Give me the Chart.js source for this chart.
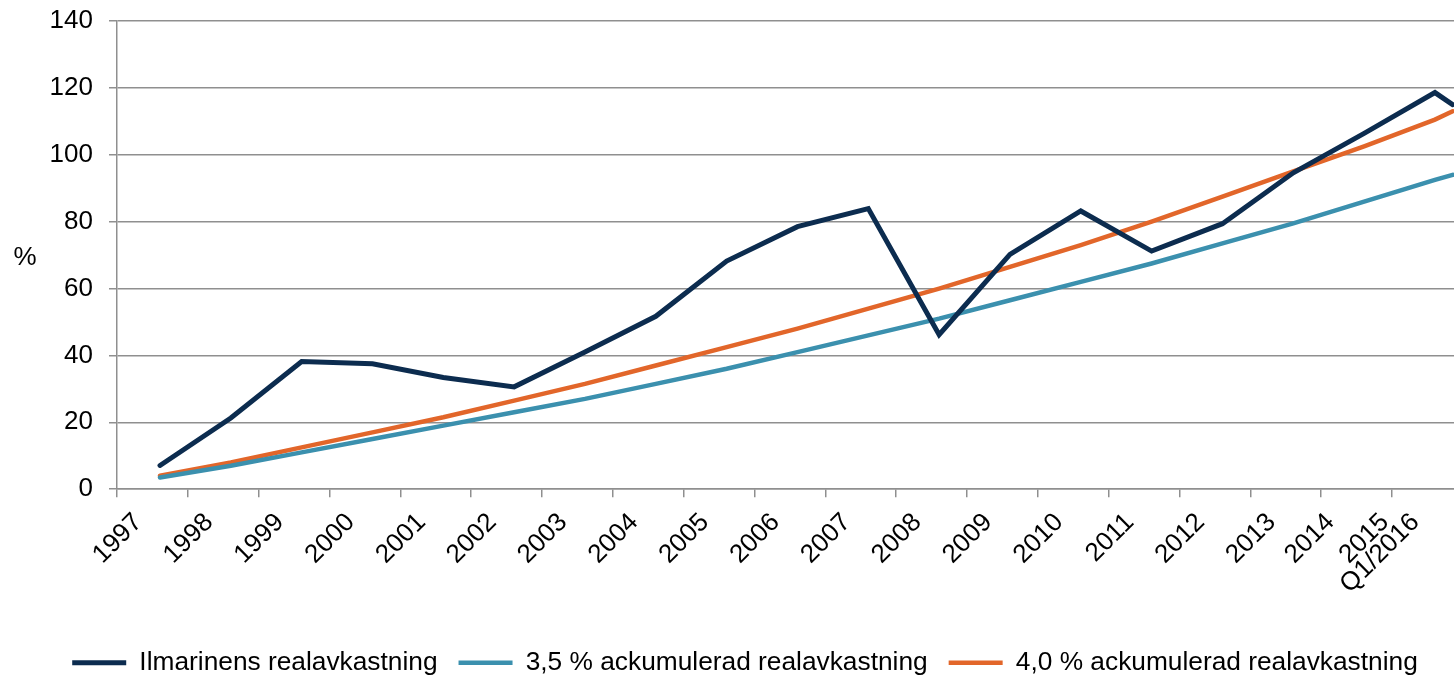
<!DOCTYPE html>
<html>
<head>
<meta charset="utf-8">
<script src="https://cdn.jsdelivr.net/npm/chart.js@4"></script>
<style>
  html, body { margin: 0; padding: 0; background: #fff; overflow: hidden; }
  #wrap { width: 1454px; height: 677px; overflow: hidden; }
</style>
</head>
<body>
<div id="wrap"><canvas id="chart" width="1454" height="686"></canvas></div>
<script>
// Perioder på x-axeln (sista punkten är första kvartalet 2016)
const periods = ['1997', '1998', '1999', '2000', '2001', '2002', '2003', '2004', '2005', '2006',
  '2007', '2008', '2009', '2010', '2011', '2012', '2013', '2014', '2015', 'Q1/2016'];

// Kumulativ realavkastning, %
const ilmarinen = [7.1, 21.3, 38.2, 37.5, 33.4, 30.6, 41, 51.7, 68.2, 78.5,
  83.9, 46.2, 70.2, 83.2, 71.2, 79.4, 94.6, 106.4, 118.6, 115];
const acc35 = [3.5, 7, 11, 15, 19, 23, 27, 31.5, 36, 41,
  46, 51, 56.5, 62, 67.5, 73.5, 79.5, 86, 92.5, 94];
const acc40 = [4, 8, 12.5, 17, 21.5, 26.5, 31.5, 37, 42.5, 48,
  54, 60, 66.5, 73, 80, 87.5, 95, 102.5, 110.5, 113];

const yTicks = [0, 20, 40, 60, 80, 100, 120, 140];

// årsvärdena ligger en bit in i året, Q1/2016 ett kvartal efter 2015
const xOf = i => (i < 19 ? i : 18.25) + 0.607;
const points = arr => arr.map((v, i) => ({ x: xOf(i), y: v }));

const FONT = "'Liberation Sans', Arial, sans-serif";
Chart.defaults.font.family = FONT;
Chart.defaults.color = '#000';

const gridColor = '#8f8f8f';
const xMax = 18.876; // diagrammet är beskuret i högerkanten

// "%" står vågrätt till vänster om y-axeln
const percentLabel = {
  id: 'percentLabel',
  afterDraw(chart) {
    const { ctx, chartArea } = chart;
    ctx.save();
    ctx.font = '26px ' + FONT;
    ctx.fillStyle = '#000';
    ctx.textAlign = 'center';
    ctx.textBaseline = 'middle';
    ctx.fillText('%', 25, (chartArea.top + chartArea.bottom) / 2 + 3);
    ctx.restore();
  }
};

function dataset(label, data, color, width) {
  return {
    label: label,
    data: points(data),
    borderColor: color,
    backgroundColor: color,
    borderWidth: width,
    borderCapStyle: 'round',
    borderJoinStyle: 'miter',
    pointRadius: 0,
    tension: 0,
    xAxisID: 'x',
    yAxisID: 'y'
  };
}

new Chart(document.getElementById('chart'), {
  type: 'line',
  data: {
    datasets: [
      dataset('Ilmarinens realavkastning', ilmarinen, '#0c2c4f', 5),
      dataset('3,5 % ackumulerad realavkastning', acc35, '#3b90ae', 4.5),
      dataset('4,0 % ackumulerad realavkastning', acc40, '#e2662a', 4.5)
    ]
  },
  options: {
    responsive: false,
    animation: false,
    layout: { padding: { left: 36, top: 21, right: 0, bottom: 0 } },
    scales: {
      x: {
        type: 'linear',
        position: 'bottom',
        min: 0,
        max: xMax,
        afterBuildTicks: s => { s.ticks = periods.slice(0, 19).map((p, i) => ({ value: i })); },
        afterFit: s => { s.height = 8; },
        grid: { drawOnChartArea: false, drawTicks: true, tickLength: 8, color: gridColor, lineWidth: 1.5 },
        border: { display: true, color: gridColor, width: 1.5 },
        ticks: { display: false }
      },
      x2: {
        type: 'linear',
        position: 'bottom',
        weight: 1,
        min: 0,
        max: xMax,
        afterBuildTicks: s => {
          s.ticks = periods.map((p, i) => ({ value: i + 0.3 }));
          // de sista etiketterna trycks åt vänster för att få plats
          s.ticks[17].value = 17.13;
          s.ticks[18].value = 17.90;
          s.ticks[19].value = 18.33;
        },
        afterFit: s => { s.height = 131.5; },
        grid: { display: false },
        border: { display: false },
        ticks: {
          autoSkip: false,
          minRotation: 45,
          maxRotation: 45,
          padding: 2,
          font: { size: 26 },
          color: '#000',
          callback: (v, i) => periods[i]
        }
      },
      y: {
        min: 0,
        max: 140,
        afterBuildTicks: s => { s.ticks = yTicks.map(v => ({ value: v })); },
        afterFit: s => {
          s.width = 81;
          // etikettavståndet ska inte trycka ner diagramytan
          s.paddingTop = 15;
          s.paddingBottom = 15;
        },
        grid: { color: gridColor, lineWidth: 1.5, tickLength: 8 },
        border: { display: true, color: gridColor, width: 1.5 },
        ticks: { padding: 16, font: { size: 26 }, color: '#000' }
      }
    },
    plugins: {
      legend: {
        position: 'bottom',
        labels: {
          usePointStyle: true,
          pointStyle: 'line',
          pointStyleWidth: 54,
          padding: 21,
          font: { size: 26.3 },
          color: '#000'
        }
      },
      tooltip: { enabled: false }
    }
  },
  plugins: [percentLabel]
});
</script>
</body>
</html>
